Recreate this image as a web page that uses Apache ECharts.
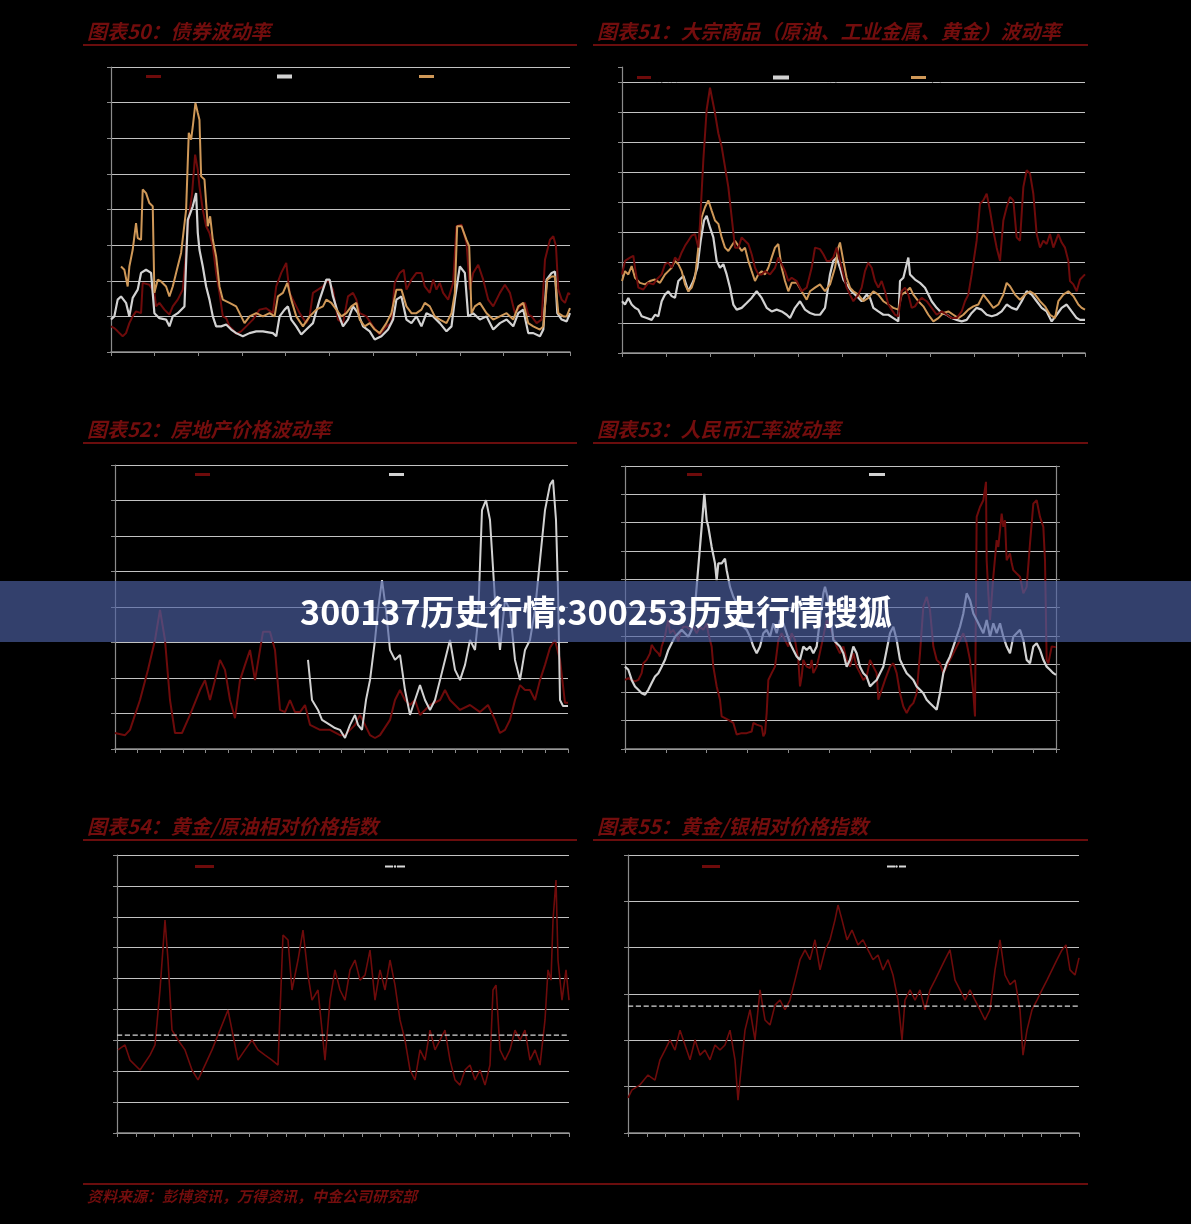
<!DOCTYPE html>
<html><head><meta charset="utf-8">
<script src="https://cdn.jsdelivr.net/npm/echarts/dist/echarts.min.js"></script>
<style>html,body{margin:0;padding:0;background:#000;}#c{width:1191px;height:1224px;}</style>
</head><body><div id="c"></div>
<script>
// ---------- Titles ----------
const titles = ['图表50：债券波动率','图表51：大宗商品（原油、工业金属、黄金）波动率','图表52：房地产价格波动率','图表53：人民币汇率波动率','图表54：黄金/原油相对价格指数','图表55：黄金/银相对价格指数'];
const sourceNote = '资料来源：彭博资讯，万得资讯，中金公司研究部';
const bannerText = '300137历史行情:300253历史行情搜狐';

// ---------- Chart 50: bond volatility ([t, value]) ----------
const names50 = ['美国国债','德国国债','日本国债'];
const bond50A = [[0,0.72],[10,0.67],[20,0.58],[35,0.44],[45,0.53],[55,0.81],[65,1.00],[75,1.14],[90,1.09],[95,1.94],[115,1.89],[120,1.84],[130,1.66],[135,1.28],[145,1.38],[160,1.19],[175,1.05],[185,1.28],[200,1.47],[215,1.75],[223,2.59],[230,3.53],[243,4.46],[252,5.54],[260,5.12],[265,4.65],[275,3.99],[285,3.53],[295,3.34],[305,2.97],[315,2.22],[325,1.66],[335,1.00],[345,0.95],[355,0.72],[365,0.63],[375,0.51],[390,0.58],[405,0.72],[425,0.91],[445,1.19],[465,1.23],[485,1.09],[495,1.84],[510,2.22],[525,2.50],[535,1.66],[545,1.47],[565,1.09],[585,0.81],[595,1.00],[605,1.66],[620,1.75],[635,1.84],[650,2.03],[665,1.75],[680,0.91],[695,0.81],[710,1.56],[725,1.66],[735,1.47],[745,1.09],[765,1.00],[785,0.72],[805,0.49],[825,0.72],[840,0.81],[850,1.94],[865,2.22],[877,2.31],[885,1.75],[900,2.03],[915,2.22],[930,2.22],[940,1.84],[955,1.66],[965,2.03],[975,1.75],[985,1.94],[995,1.66],[1010,1.47],[1025,1.94],[1035,3.53],[1050,3.57],[1065,3.06],[1075,1.75],[1085,2.22],[1100,2.45],[1115,2.03],[1130,1.47],[1145,1.28],[1165,1.66],[1180,1.89],[1195,1.66],[1210,1.09],[1225,1.28],[1240,1.38],[1250,1.05],[1260,1.00],[1275,0.81],[1290,0.91],[1300,2.59],[1315,3.15],[1325,3.25],[1333,2.97],[1340,1.75],[1350,1.47],[1360,1.38],[1370,1.66],[1375,1.61]];
const bond50B = [[0,0.91],[10,1.00],[20,1.47],[30,1.56],[45,1.38],[55,1.00],[65,1.52],[80,1.75],[90,2.22],[105,2.31],[120,2.22],[130,1.09],[145,0.95],[165,0.91],[175,0.72],[185,1.00],[200,1.09],[220,1.28],[230,3.71],[245,4.09],[255,4.46],[260,3.34],[265,2.87],[275,2.40],[285,1.84],[295,1.47],[305,1.00],[315,0.72],[330,0.72],[345,0.77],[360,0.63],[375,0.53],[395,0.44],[415,0.53],[435,0.58],[455,0.58],[485,0.53],[495,0.44],[505,1.00],[520,1.19],[530,1.28],[540,0.91],[555,0.72],[570,0.49],[585,0.63],[605,0.81],[625,1.47],[645,2.03],[655,2.03],[665,1.56],[680,1.09],[695,0.72],[710,0.91],[725,1.28],[740,1.09],[755,0.72],[775,0.58],[790,0.35],[810,0.44],[830,0.63],[845,0.91],[855,1.47],[870,1.56],[885,0.91],[900,0.81],[915,1.00],[930,0.72],[945,1.09],[965,1.00],[985,0.81],[1005,0.58],[1020,0.72],[1030,1.47],[1045,2.40],[1060,2.22],[1070,1.00],[1085,1.09],[1105,0.91],[1125,1.00],[1145,0.63],[1165,0.81],[1185,0.91],[1205,0.72],[1220,1.09],[1235,1.19],[1250,0.53],[1265,0.53],[1285,0.44],[1295,0.63],[1305,2.03],[1320,2.22],[1330,2.26],[1337,1.09],[1350,0.91],[1365,0.86],[1375,1.09]];
const bond50C = [[30,2.40],[40,2.31],[50,1.84],[55,2.40],[65,2.87],[75,3.62],[80,3.20],[90,3.15],[95,4.56],[105,4.46],[115,4.18],[125,4.09],[130,1.66],[140,2.03],[150,1.98],[165,1.84],[175,1.56],[185,1.84],[195,2.22],[210,2.78],[225,3.99],[233,6.15],[240,5.96],[245,6.33],[253,6.99],[260,6.71],[265,6.52],[270,4.93],[280,4.84],[290,3.53],[297,3.81],[305,3.15],[315,2.68],[325,1.84],[335,1.47],[355,1.38],[375,1.28],[390,1.00],[400,0.81],[415,1.00],[435,1.09],[455,1.00],[475,1.09],[490,1.00],[500,1.56],[515,1.66],[528,1.94],[540,1.47],[555,1.00],[575,0.72],[595,1.00],[615,1.19],[635,1.28],[645,1.47],[660,1.38],[675,1.19],[690,1.00],[705,1.09],[720,1.28],[735,1.38],[745,0.91],[760,0.72],[775,0.81],[790,0.63],[805,0.53],[825,0.81],[840,1.09],[855,1.75],[870,1.75],[885,1.28],[900,1.09],[915,1.09],[930,1.19],[940,1.38],[955,1.28],[970,1.00],[985,0.91],[1005,0.81],[1020,1.09],[1030,1.66],[1037,3.53],[1050,3.53],[1065,3.15],[1073,2.97],[1080,1.09],[1090,1.28],[1105,1.38],[1125,1.09],[1145,0.91],[1165,1.00],[1185,1.09],[1205,0.91],[1220,1.28],[1235,1.38],[1250,0.81],[1265,0.72],[1285,0.63],[1295,0.72],[1307,2.03],[1320,2.12],[1330,2.12],[1340,1.09],[1355,1.00],[1365,1.00],[1375,1.23]];

// ---------- Chart 51: commodity volatility (%) ----------
const names51 = ['原油','工业金属','黄金'];
const oil51 = [[0,26.1],[9,30.6],[24,31.7],[34,32.3],[39,28.3],[49,21.7],[64,21.1],[79,23.3],[94,22.8],[104,24.4],[119,26.1],[129,29.5],[139,30.0],[149,28.3],[159,31.7],[169,30.6],[179,33.4],[189,35.6],[199,37.3],[209,39.0],[219,39.5],[229,35.0],[234,42.9],[244,64.1],[254,80.8],[264,88.1],[269,85.3],[279,79.7],[289,73.0],[299,68.5],[309,61.8],[319,55.1],[329,45.1],[339,35.0],[349,35.0],[359,38.4],[369,37.3],[379,36.2],[389,32.8],[399,28.3],[409,26.1],[419,26.1],[429,27.2],[444,26.1],[459,28.3],[469,31.7],[479,29.5],[489,27.2],[499,23.9],[509,25.0],[524,23.9],[539,20.5],[554,21.7],[569,28.3],[579,35.0],[594,34.5],[604,32.8],[614,30.6],[624,30.6],[634,31.7],[644,35.0],[654,30.6],[664,26.1],[674,21.7],[684,19.4],[694,17.2],[709,19.4],[719,21.7],[729,27.2],[739,30.0],[749,28.3],[759,23.9],[769,21.7],[779,23.9],[789,20.5],[799,16.1],[809,14.4],[819,12.7],[829,12.2],[839,20.5],[849,21.7],[859,19.4],[869,15.0],[879,15.5],[889,17.2],[899,18.3],[914,17.2],[929,15.0],[944,12.7],[959,13.8],[974,12.7],[989,11.6],[1004,11.6],[1019,13.8],[1029,17.2],[1039,19.4],[1049,26.1],[1064,37.3],[1074,49.6],[1084,50.7],[1094,52.9],[1104,47.3],[1114,40.6],[1124,35.0],[1134,30.6],[1144,44.0],[1154,48.4],[1164,51.8],[1174,50.7],[1184,38.4],[1194,37.3],[1204,55.1],[1214,60.7],[1224,59.6],[1234,52.9],[1244,39.5],[1254,35.0],[1264,37.3],[1274,36.2],[1284,39.5],[1294,35.0],[1309,39.5],[1319,36.7],[1329,35.0],[1339,30.6],[1344,23.9],[1354,22.8],[1364,20.5],[1374,24.4],[1389,26.1]];
const metal51 = [[0,17.2],[9,16.1],[19,18.3],[29,16.1],[39,15.0],[49,14.4],[59,12.2],[74,11.6],[89,11.0],[99,12.7],[109,12.2],[119,17.2],[129,19.4],[139,20.5],[149,18.9],[159,18.3],[169,23.9],[184,25.6],[199,20.5],[214,23.9],[226,28.3],[236,37.3],[246,44.0],[254,45.6],[264,41.7],[274,38.4],[284,30.6],[294,28.3],[304,29.5],[314,26.1],[324,21.7],[334,16.1],[344,14.4],[359,15.0],[374,16.6],[389,18.3],[404,20.5],[419,18.3],[434,15.0],[449,13.8],[464,14.4],[479,13.8],[494,12.7],[504,11.6],[519,15.0],[534,17.2],[549,14.4],[564,13.3],[579,12.7],[594,12.7],[609,15.0],[624,26.1],[634,30.6],[644,31.7],[654,28.3],[664,24.4],[674,22.8],[689,20.5],[704,18.9],[719,17.2],[734,19.4],[744,18.3],[754,15.0],[769,13.8],[784,12.7],[799,12.7],[814,11.6],[829,10.5],[834,23.9],[844,25.0],[859,31.7],[864,26.1],[879,24.4],[894,23.3],[909,21.7],[919,19.4],[929,17.2],[944,15.0],[959,13.3],[974,12.7],[989,11.6],[1004,11.0],[1019,10.5],[1034,11.0],[1049,13.3],[1064,15.0],[1079,14.4],[1094,12.7],[1109,12.2],[1124,12.7],[1139,13.8],[1154,16.1],[1169,15.0],[1184,14.4],[1199,17.2],[1214,20.5],[1229,19.4],[1244,17.2],[1259,15.0],[1274,13.8],[1289,10.5],[1304,12.7],[1319,15.0],[1334,16.1],[1349,13.8],[1364,11.6],[1374,11.0],[1389,11.0]];
const gold51 = [[0,23.9],[9,27.2],[19,26.1],[29,28.9],[39,25.0],[54,23.3],[69,22.8],[84,23.9],[99,24.4],[114,23.3],[129,26.1],[139,27.2],[149,28.3],[159,30.6],[169,29.5],[179,27.2],[189,22.8],[199,20.5],[209,21.7],[219,25.0],[229,35.0],[239,45.1],[249,48.4],[259,50.7],[269,47.3],[279,44.0],[289,42.9],[299,38.4],[309,35.0],[319,33.9],[329,35.6],[339,37.3],[349,35.6],[359,33.9],[369,35.0],[379,30.6],[389,27.2],[399,23.9],[409,26.1],[419,27.2],[429,26.1],[439,28.3],[449,31.7],[459,35.0],[469,36.2],[479,28.3],[489,23.9],[499,20.5],[509,23.3],[524,23.3],[539,20.5],[554,17.7],[564,20.5],[579,21.7],[594,22.8],[609,20.5],[624,22.8],[639,28.3],[649,35.0],[654,36.7],[664,30.6],[674,25.0],[684,21.7],[694,20.5],[709,19.4],[724,17.2],[739,18.3],[754,20.5],[769,19.4],[784,17.2],[799,16.1],[814,15.0],[829,14.4],[839,19.4],[854,20.5],[864,21.7],[874,19.4],[889,17.2],[904,15.5],[919,12.7],[934,10.5],[949,11.6],[964,13.3],[979,13.8],[994,12.7],[1009,11.6],[1024,12.7],[1039,14.4],[1054,15.5],[1069,16.1],[1084,19.4],[1099,17.2],[1114,15.0],[1129,16.1],[1144,19.4],[1154,23.3],[1164,22.2],[1179,19.4],[1194,17.7],[1209,19.4],[1224,20.5],[1239,19.4],[1254,17.2],[1269,15.5],[1284,12.7],[1299,11.6],[1309,17.2],[1324,19.4],[1339,20.5],[1354,18.9],[1369,16.1],[1379,15.0],[1389,14.4]];

// ---------- Chart 52: house price volatility ----------
const names52 = ['美国房价','中国房价'];
const house52A = [[0,0.45],[10,0.39],[15,0.54],[25,1.38],[33,2.23],[40,3.07],[45,3.92],[50,3.07],[55,1.38],[60,0.45],[67,0.45],[75,0.96],[85,1.66],[90,1.94],[95,1.38],[100,1.94],[105,2.51],[110,2.23],[115,1.38],[120,0.87],[125,1.94],[130,2.37],[135,2.79],[140,1.94],[145,2.79],[148,3.30],[155,3.30],[160,2.79],[165,1.10],[170,1.04],[175,1.38],[180,1.04],[185,1.04],[190,1.24],[195,0.68],[205,0.54],[215,0.54],[225,0.39],[230,0.39],[240,0.68],[245,0.96],[250,0.68],[255,0.39],[260,0.31],[265,0.39],[275,0.82],[280,1.38],[285,1.66],[290,1.38],[295,1.24],[300,1.38],[305,0.96],[315,1.24],[325,1.38],[330,1.66],[335,1.38],[345,1.10],[355,1.24],[365,1.04],[373,1.24],[380,0.82],[385,0.45],[390,0.54],[395,0.82],[400,1.38],[405,1.80],[410,1.66],[415,1.66],[420,1.38],[425,1.94],[430,2.37],[435,2.85],[440,3.07],[445,2.51],[450,1.30],[453,1.30]];
const house52B = [[193,2.51],[197,1.38],[203,1.10],[207,0.82],[215,0.68],[220,0.59],[225,0.54],[230,0.31],[235,0.68],[240,0.96],[243,0.68],[247,0.54],[251,1.38],[255,1.94],[260,3.07],[263,3.92],[267,4.76],[271,3.92],[275,2.79],[280,2.51],[285,2.65],[290,1.66],[295,0.96],[300,1.38],[305,1.80],[310,1.38],[315,1.10],[320,1.38],[325,1.94],[330,2.51],[335,3.07],[340,2.23],[345,1.94],[350,2.37],[355,3.07],[360,2.79],[363,3.63],[367,6.73],[371,7.01],[375,6.45],[380,4.20],[385,2.79],[390,4.20],[395,3.92],[400,2.51],[405,1.94],[410,2.79],[415,3.07],[420,3.92],[425,5.32],[430,6.73],[435,7.44],[438,7.58],[441,6.45],[443,4.48],[445,1.38],[448,1.21],[453,1.21]];

// ---------- Chart 53: RMB exchange-rate volatility ----------
const names53 = ['USDCNY即期','USDCNY 1年期NDF'];
const fx53A = [[0,2.44],[10,2.50],[20,2.44],[30,2.39],[40,2.44],[50,2.68],[55,3.03],[65,3.15],[75,3.38],[80,3.68],[90,3.50],[100,3.38],[105,3.27],[110,3.62],[115,3.80],[120,3.97],[125,4.32],[130,4.56],[135,4.09],[145,4.21],[155,3.97],[160,3.80],[165,4.09],[175,4.32],[185,4.32],[195,4.21],[205,4.32],[215,4.09],[225,4.32],[235,4.21],[245,4.44],[250,4.09],[255,3.85],[260,3.62],[265,2.91],[275,2.21],[285,1.74],[290,1.15],[300,1.09],[310,1.03],[325,0.92],[335,0.51],[350,0.56],[365,0.56],[380,0.62],[385,0.92],[395,0.86],[410,0.80],[415,0.45],[420,0.56],[425,1.27],[430,2.44],[440,2.68],[450,2.91],[455,3.38],[460,3.85],[470,4.09],[480,3.85],[490,3.62],[500,4.09],[510,3.85],[520,3.15],[525,2.21],[530,2.56],[535,3.15],[545,2.91],[555,2.86],[560,3.15],[565,2.68],[575,2.91],[580,3.15],[585,3.15],[595,3.97],[605,4.56],[615,4.32],[625,3.97],[635,3.62],[645,3.38],[655,3.62],[665,3.15],[675,2.91],[685,3.38],[695,2.91],[705,2.68],[715,2.44],[725,2.56],[735,3.15],[745,2.91],[755,2.68],[760,1.74],[770,2.09],[780,2.44],[795,2.91],[805,3.03],[815,2.68],[825,1.97],[835,1.50],[845,1.27],[855,1.50],[865,1.62],[875,1.97],[885,3.38],[895,5.03],[905,5.38],[915,4.91],[925,3.62],[935,3.15],[945,3.03],[955,2.68],[965,2.91],[975,3.15],[985,3.38],[995,3.62],[1005,3.85],[1015,4.09],[1025,3.74],[1035,3.15],[1040,2.56],[1045,1.97],[1050,1.15],[1055,8.20],[1065,8.55],[1075,8.79],[1083,9.44],[1085,6.67],[1090,5.50],[1095,4.56],[1105,6.09],[1115,7.38],[1120,7.14],[1130,8.32],[1135,7.85],[1140,8.08],[1145,6.67],[1155,6.91],[1160,6.56],[1165,6.32],[1175,6.20],[1185,6.09],[1195,5.50],[1205,5.73],[1215,7.26],[1225,8.67],[1235,8.79],[1245,8.20],[1255,7.85],[1260,6.67],[1265,3.15],[1270,3.03],[1280,3.62],[1293,3.60]];
const fx53B = [[0,2.91],[10,2.80],[20,2.44],[30,2.21],[40,2.09],[50,1.97],[60,1.92],[70,2.09],[80,2.33],[90,2.56],[100,2.68],[110,2.91],[120,3.15],[130,3.50],[140,3.74],[150,3.97],[160,4.09],[170,4.21],[180,4.09],[190,3.97],[200,4.21],[210,5.03],[220,6.44],[230,7.85],[238,9.02],[245,8.08],[250,7.85],[260,7.14],[270,6.56],[275,5.97],[280,6.56],[290,6.56],[300,6.73],[305,6.32],[315,5.73],[325,5.38],[335,5.15],[345,4.79],[355,4.32],[365,4.21],[375,3.97],[385,3.62],[395,3.38],[405,3.62],[410,3.85],[415,4.09],[425,4.21],[435,3.97],[445,4.44],[455,4.09],[465,4.56],[475,4.44],[485,4.09],[495,3.74],[505,3.50],[515,3.27],[525,3.15],[535,3.62],[545,3.50],[555,3.62],[565,3.38],[575,3.62],[585,4.56],[595,5.50],[600,5.73],[610,5.26],[615,4.91],[625,3.85],[635,3.74],[645,3.62],[655,3.38],[665,2.91],[675,3.15],[685,3.62],[695,3.38],[705,2.91],[715,2.68],[725,2.56],[735,2.21],[745,2.33],[755,2.44],[765,2.68],[775,2.91],[785,3.50],[795,4.09],[805,4.32],[815,3.85],[825,3.15],[835,2.91],[845,2.68],[855,2.56],[865,2.44],[875,2.21],[885,2.09],[895,1.97],[905,1.74],[915,1.62],[925,1.50],[935,1.39],[945,1.97],[955,2.68],[965,3.03],[975,3.27],[985,3.62],[995,3.97],[1005,4.32],[1015,4.79],[1025,5.50],[1035,5.26],[1045,4.79],[1055,4.56],[1065,4.32],[1075,4.09],[1085,4.56],[1095,3.97],[1105,4.44],[1115,4.09],[1125,4.44],[1135,3.97],[1145,3.62],[1155,3.38],[1165,3.97],[1175,4.09],[1185,4.21],[1195,3.85],[1205,3.15],[1215,3.03],[1225,3.62],[1235,3.74],[1245,3.50],[1255,3.15],[1265,2.91],[1275,2.80],[1285,2.68],[1293,2.62]];

// ---------- Chart 54: gold / oil relative price ----------
const names54 = ['黄金/原油','均值(黄金/原油)'];
const goldOil54 = [[1,2.69],[8,2.85],[13,2.36],[23,2.04],[33,2.52],[38,2.85],[43,4.63],[48,6.89],[51,5.60],[55,3.33],[61,3.01],[68,2.69],[75,2.04],[81,1.72],[88,2.20],[95,2.69],[103,3.33],[111,3.98],[115,3.33],[121,2.36],[128,2.69],[135,3.01],[141,2.69],[148,2.52],[155,2.36],[161,2.20],[166,6.41],[171,6.25],[175,4.63],[181,5.60],[186,6.57],[191,5.11],[195,4.30],[201,4.63],[208,2.36],[213,4.30],[218,5.28],[223,4.63],[228,4.30],[233,5.28],[238,5.60],[243,4.95],[248,5.11],[253,5.92],[258,4.30],[263,5.28],[268,4.63],[273,5.60],[278,4.79],[283,3.66],[288,3.01],[293,2.04],[298,1.72],[303,2.69],[308,2.36],[313,3.33],[318,2.69],[323,3.01],[328,3.33],[333,2.36],[338,1.72],[343,1.55],[348,2.04],[353,2.20],[358,1.72],[363,2.04],[368,1.55],[373,2.20],[376,4.63],[379,4.79],[383,2.69],[388,2.36],[393,2.69],[398,3.33],[403,3.01],[408,3.33],[413,2.36],[418,2.69],[423,2.20],[428,3.66],[431,5.28],[434,4.95],[436,6.89],[439,8.19],[441,5.60],[445,4.30],[449,5.28],[452,4.30]];
const goldOilMean = 3.17;

// ---------- Chart 55: gold / silver relative price ----------
const names55 = ['黄金/白银','均值(黄金/白银)'];
const goldSilver55 = [[0,0.76],[4,0.93],[12,1.04],[20,1.25],[27,1.14],[32,1.58],[37,1.79],[42,2.01],[47,1.79],[52,2.22],[57,1.90],[62,1.58],[67,2.01],[72,1.68],[77,1.79],[82,1.58],[87,1.90],[92,1.79],[97,1.90],[102,2.22],[107,1.58],[110,0.71],[114,1.58],[117,2.22],[122,2.66],[127,2.01],[132,3.09],[137,2.44],[142,2.33],[147,2.76],[152,2.87],[157,2.66],[162,2.87],[167,3.30],[172,3.74],[177,3.95],[182,3.74],[187,4.17],[192,3.52],[197,3.95],[202,4.17],[207,4.60],[210,4.92],[214,4.60],[219,4.17],[224,4.38],[230,4.06],[235,4.17],[240,3.95],[245,3.74],[250,3.84],[255,3.52],[260,3.74],[265,3.41],[270,2.87],[274,2.01],[277,2.87],[282,3.09],[287,2.87],[292,3.09],[297,2.66],[302,3.09],[307,3.30],[312,3.52],[317,3.74],[322,3.95],[327,3.30],[332,3.09],[337,2.87],[342,3.09],[347,2.87],[352,2.66],[357,2.44],[362,2.66],[367,3.52],[372,4.17],[377,3.41],[382,3.20],[387,3.30],[392,2.66],[395,1.68],[399,2.22],[404,2.66],[409,2.87],[414,3.09],[419,3.30],[424,3.52],[429,3.74],[434,3.95],[438,4.06],[442,3.52],[447,3.41],[451,3.78]];
const goldSilverMean = 2.74;

// ---------- styling ----------
const RED = '#6e0b0b', GREY = '#d2d2d2', TAN = '#cf9858', TITLE = '#730d0d';
const AXIS = '#8c8c8c', GRID = '#c2c2c2';

const grids = [
  {left:111, top:67, width:459, height:285},
  {left:622, top:67, width:463, height:286},
  {left:115, top:465, width:453, height:284},
  {left:625, top:466, width:431, height:283},
  {left:117, top:855, width:452, height:278},
  {left:628, top:855, width:451, height:278}
];

function xAx(gi, max, interval){
  return {type:'value', gridIndex:gi, min:0, max:max, interval:interval,
    axisLine:{show:true, onZero:false, lineStyle:{color:AXIS, width:1.5}},
    axisTick:{show:true, length:4, lineStyle:{color:AXIS}},
    axisLabel:{show:false}, splitLine:{show:false}};
}
function yAx(gi, max, interval, opts){
  opts = opts || {};
  return {type:'value', gridIndex:gi, min:0, max:max, interval:interval, position:opts.pos||'left',
    axisLine:{show:true, lineStyle:{color:AXIS, width:1.2}},
    axisTick:{show:true, length:4, lineStyle:{color:AXIS}},
    axisLabel:{show:false},
    splitLine:{show:opts.split!==false, showMaxLine:opts.maxLine!==false, lineStyle:{color:GRID, width:1}}};
}

const xAxis = [xAx(0,1375,130.7), xAx(1,1389,132.1), xAx(2,453,22.65), xAx(3,1293,122.4), xAx(4,452,18.83), xAx(5,451,18.79)];
const yAxis = [
  yAx(0,8,1), yAx(1,95,10,{maxLine:false}), yAx(2,8,1), yAx(3,10,1),
  yAx(4,9,1), yAx(5,6,1), yAx(3,10,1,{pos:'right', split:false})
];

function line(name, data, gi, yi, color, width, dashed){
  return {name:name, type:'line', xAxisIndex:gi, yAxisIndex:yi, data:data, symbol:'none',
    animation:false, silent:true, lineStyle:{color:color, width:width, type: dashed?'dashed':'solid'}, itemStyle:{color:color}};
}

const series = [
  line(names50[0], bond50A, 0, 0, RED, 2),
  line(names50[1], bond50B, 0, 0, GREY, 2.2),
  line(names50[2], bond50C, 0, 0, TAN, 2),
  line(names51[1], metal51, 1, 1, GREY, 2.2),
  line(names51[2], gold51, 1, 1, TAN, 2),
  line(names51[0], oil51, 1, 1, RED, 2),
  line(names52[0], house52A, 2, 2, RED, 2),
  line(names52[1], house52B, 2, 2, GREY, 2),
  line(names53[0], fx53A, 3, 3, RED, 2),
  line(names53[1], fx53B, 3, 3, GREY, 2.2),
  line(names54[0], goldOil54, 4, 4, RED, 1.6),
  line(names54[1], [[0,goldOilMean],[452,goldOilMean]], 4, 4, '#d8d8d8', 1.3, true),
  line(names55[0], goldSilver55, 5, 5, RED, 1.6),
  line(names55[1], [[0,goldSilverMean],[451,goldSilverMean]], 5, 5, '#d8d8d8', 1.3, true)
];

function leg(name, left, top, w, h){
  return {data:[name], left:left, top:top, padding:0, itemWidth:w, itemHeight:h||3, icon:'rect',
    selectedMode:false, textStyle:{color:'#000', fontSize:11}};
}
function legLine(name, left, top, w){
  return {data:[name], left:left, top:top, padding:0, itemWidth:w, itemHeight:3,
    selectedMode:false, textStyle:{color:'#000', fontSize:11}};
}
const legend = [
  leg(names50[0],146,71,15), leg(names50[1],277,71,15,4), leg(names50[2],419,71,15),
  leg(names51[0],637,72,14), leg(names51[1],773,72,16,4), leg(names51[2],911,72,15),
  leg(names52[0],195,469,15), leg(names52[1],389,469,15),
  leg(names53[0],687,469,15), leg(names53[1],869,469,16),
  leg(names54[0],195,861,19), legLine(names54[1],384,861,20),
  leg(names55[0],702,861,18), legLine(names55[1],886,861,19)
];

function ttl(text, x, y){
  return {type:'text', x:x, y:y, z:50, style:{text:text, fill:TITLE, font:'italic bold 20px "Noto Sans CJK SC"', verticalAlign:'middle'}};
}
function rule(x1, x2, y){
  return {type:'line', z:50, shape:{x1:x1, y1:y, x2:x2, y2:y}, style:{stroke:'#6a0d0d', lineWidth:2}};
}
const graphic = [
  ttl(titles[0], 87, 31), ttl(titles[1], 597, 31),
  ttl(titles[2], 87, 429), ttl(titles[3], 597, 429),
  ttl(titles[4], 87, 826), ttl(titles[5], 597, 826),
  rule(83,577,45), rule(593,1088,45), rule(83,577,443), rule(593,1088,443),
  rule(83,577,840), rule(593,1088,840), rule(83,1088,1184),
  {type:'text', x:87, y:1196, z:50, style:{text:sourceNote, fill:TITLE, font:'italic bold 15px "Noto Sans CJK SC"', verticalAlign:'middle'}},
  {type:'rect', z:100, shape:{x:0, y:581, width:1191, height:61}, style:{fill:'rgba(77,97,164,0.66)'}},
  {type:'text', z:101, x:596, y:612, style:{text:bannerText, fill:'#ffffff', font:'bold 34px "Noto Sans CJK SC"', align:'center', verticalAlign:'middle'}}
];

const chart = echarts.init(document.getElementById('c'));
chart.setOption({
  backgroundColor:'#000', animation:false,
  grid:grids, xAxis:xAxis, yAxis:yAxis, series:series, legend:legend, graphic:graphic
});
</script></body></html>
